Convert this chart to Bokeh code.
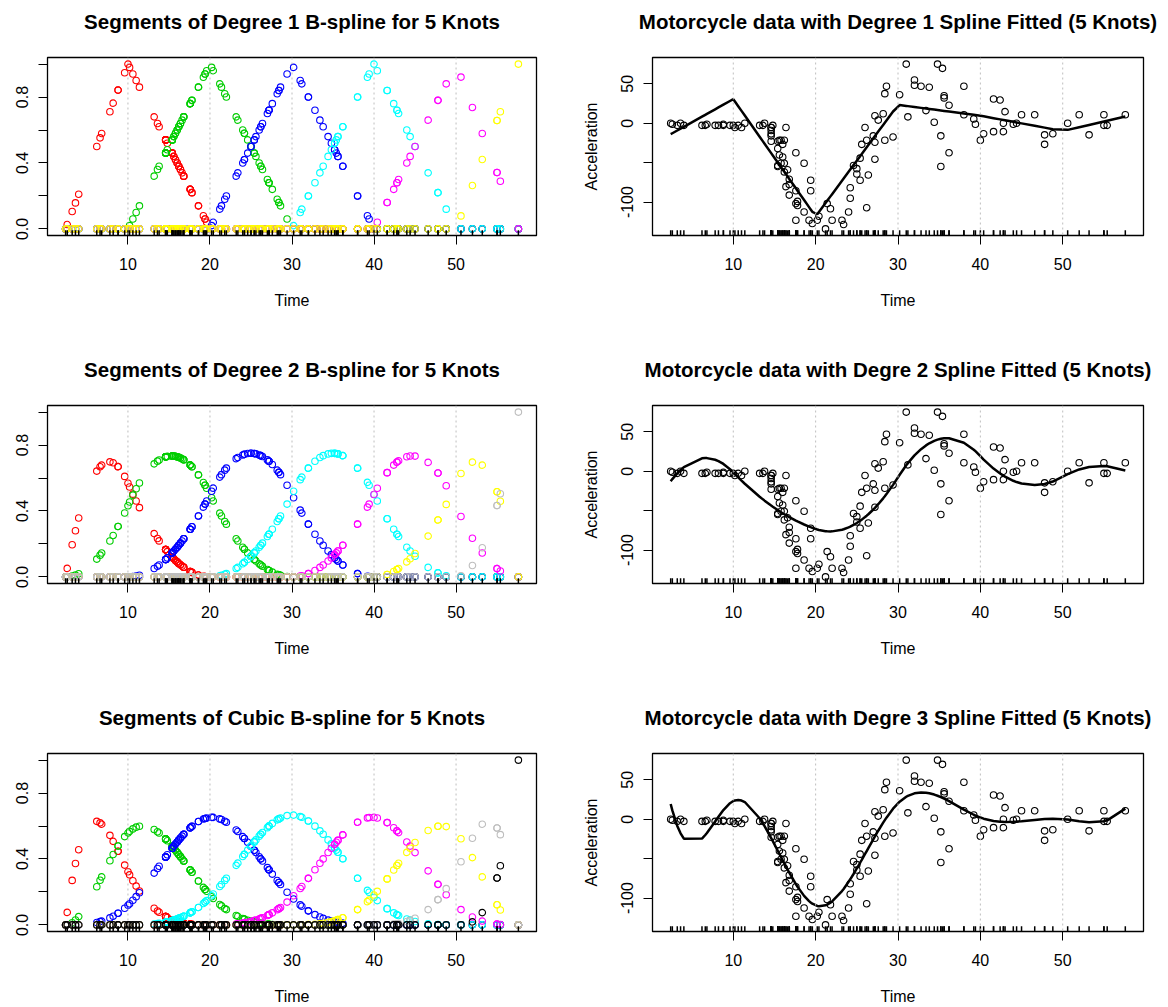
import numpy as np
from bokeh.plotting import figure
from bokeh.layouts import column, row
from bokeh.models import Range1d, FixedTicker, Span, Title
from bokeh.embed import file_html
from bokeh.resources import INLINE

# ---- data (MASS::mcycle) ----
times = [2.4, 2.6, 3.2, 3.6, 4.0, 6.2, 6.6, 6.8, 7.8, 8.2, 8.8, 8.8, 9.6, 10.0, 10.2, 10.6, 11.0, 11.4,
         13.2, 13.6, 13.8, 14.6, 14.6, 14.6, 14.6, 14.6, 14.6, 14.8, 15.4, 15.4, 15.4, 15.4, 15.6, 15.6,
         15.8, 15.8, 16.0, 16.0, 16.2, 16.2, 16.2, 16.4, 16.4, 16.6, 16.8, 16.8, 16.8, 17.6, 17.6, 17.6,
         17.6, 17.8, 17.8, 18.6, 18.6, 19.2, 19.4, 19.4, 19.6, 20.2, 20.4, 21.2, 21.4, 21.8, 22.0, 23.2,
         23.4, 24.0, 24.2, 24.2, 24.6, 25.0, 25.0, 25.4, 25.4, 25.6, 26.0, 26.2, 26.2, 26.4, 27.0, 27.2,
         27.2, 27.2, 27.6, 28.2, 28.4, 28.4, 28.6, 29.4, 30.2, 31.0, 31.2, 32.0, 32.0, 32.8, 33.4, 33.8,
         34.4, 34.8, 35.2, 35.2, 35.4, 35.6, 35.6, 36.2, 36.2, 38.0, 38.0, 39.2, 39.4, 40.0, 40.4, 41.6,
         41.6, 42.4, 42.8, 42.8, 43.0, 44.0, 44.4, 45.0, 46.6, 47.8, 47.8, 48.8, 50.6, 52.0, 53.2, 55.0,
         55.0, 55.4, 57.6]
accel = [0.0, -1.3, -2.7, 0.0, -2.7, -2.7, -2.7, -1.3, -2.7, -2.7, -1.3, -2.7, -2.7, -2.7, -5.4, -2.7,
         -5.4, 0.0, -2.7, -2.7, 0.0, -13.3, -5.4, -5.4, -9.3, -16.0, -22.8, -2.7, -22.8, -32.1, -53.5,
         -54.9, -40.2, -21.5, -21.5, -50.8, -42.9, -26.8, -21.5, -50.8, -61.7, -5.4, -80.4, -59.0, -71.0,
         -91.1, -77.7, -37.5, -85.6, -123.1, -101.9, -99.1, -104.4, -112.5, -50.8, -123.1, -85.6, -72.3,
         -127.2, -123.1, -117.9, -134.0, -101.9, -108.4, -123.1, -123.1, -128.5, -112.5, -95.1, -81.8,
         -53.5, -64.4, -57.6, -72.3, -44.3, -26.8, -5.4, -107.1, -21.5, -65.6, -16.0, -45.6, -24.2, 9.5,
         4.0, 12.0, -21.5, 37.5, 46.9, -17.4, 36.2, 75.0, 8.1, 54.9, 48.2, 46.9, 16.0, 45.6, 1.3, 75.0,
         -16.0, -54.9, 69.6, 34.8, 32.1, -37.5, 22.8, 46.9, 10.7, 5.4, -1.3, -21.5, -13.3, 30.8, -10.7,
         29.4, 0.0, -10.7, 14.7, -1.3, 0.0, 10.7, 10.7, -26.8, -14.7, -13.3, 0.0, 10.7, -14.7, -2.7,
         10.7, -2.7, 10.7]
knots = [10, 20, 30, 40, 50]
degrees = [1, 2, 3]
left_titles = ["Segments of Degree 1 B-spline for 5 Knots",
               "Segments of Degree 2 B-spline for 5 Knots",
               "Segments of Cubic B-spline for 5 Knots"]
right_titles = ["Motorcycle data with Degree 1 Spline Fitted (5 Knots)",
                "Motorcycle data with Degre 2 Spline Fitted (5 Knots)",
                "Motorcycle data with Degre 3 Spline Fitted (5 Knots)"]
colors = ["#FF0000", "#00CD00", "#0000FF", "#00FFFF", "#FF00FF", "#FFFF00", "#BEBEBE", "#000000"]
x_ticks = [10, 20, 30, 40, 50]
basis_y_ticks = [0, 0.2, 0.4, 0.6, 0.8, 1.0]
basis_y_labels = ["0.0", "", "0.4", "", "0.8", ""]
accel_y_ticks = [-100, -50, 0, 50]
accel_y_labels = ["-100", "", "0", "50"]

x = np.array(times, float)
yv = np.array(accel, float)


def bs_basis(xx, interior, degree):
    """B-spline basis as R's splines::bs (no intercept column)."""
    lo, hi = xx.min(), xx.max()
    t = np.r_[[lo] * (degree + 1), interior, [hi] * (degree + 1)].astype(float)
    m = len(t) - 1
    B = np.zeros((len(xx), m))
    for i in range(m):
        if t[i] < t[i + 1]:
            B[:, i] = (xx >= t[i]) & (xx < t[i + 1])
    last = max(i for i in range(m) if t[i] < t[i + 1])
    B[xx == hi, last] = 1.0
    for k in range(1, degree + 1):
        Bn = np.zeros((len(xx), m - k))
        for i in range(m - k):
            d1 = t[i + k] - t[i]
            d2 = t[i + k + 1] - t[i + 1]
            v = np.zeros(len(xx))
            if d1 > 0:
                v += (xx - t[i]) / d1 * B[:, i]
            if d2 > 0:
                v += (t[i + k + 1] - xx) / d2 * B[:, i + 1]
            Bn[:, i] = v
        B = Bn
    return B[:, 1:]


FONT = "Liberation Sans"
TOP = 57
xpad = 0.04 * (x.max() - x.min())
x_lo, x_hi = x.min() - xpad, x.max() + xpad
ypad = 0.04 * (yv.max() - yv.min())
acc_range = (yv.min() - ypad, yv.max() + ypad)
bas_range = (-0.04, 1.04)


def base_fig(title, width, height, left, right, bottom, yrange, yticks, ylabels, ylabel=None):
    p = figure(width=width, height=height, output_backend="svg", toolbar_location=None,
               x_range=Range1d(x_lo, x_hi), y_range=Range1d(*yrange),
               min_border_left=left, min_border_right=right,
               min_border_top=TOP, min_border_bottom=bottom,
               background_fill_color="white", border_fill_color="white")
    # white spacer between frame and title (nearest to the frame), then the title
    p.add_layout(Title(text=".", text_font_size="2px", text_color="white", standoff=22), "above")
    p.add_layout(Title(text=title, align="center", vertical_align="bottom", standoff=0,
                       text_font=FONT, text_font_style="bold", text_font_size="20.5px",
                       text_color="black"), "above")
    p.xgrid.visible = False
    p.ygrid.visible = False
    p.outline_line_color = "black"
    p.outline_line_width = 1.3
    for ax in (p.xaxis[0], p.yaxis[0]):
        ax.major_tick_in = 0
        ax.major_tick_out = 9
        ax.minor_tick_line_color = None
        ax.major_tick_line_color = "black"
        ax.axis_line_color = "black"
        ax.major_label_text_font = FONT
        ax.major_label_text_font_size = "16px"
        ax.major_label_text_color = "black"
        ax.axis_label_text_font = FONT
        ax.axis_label_text_font_size = "16px"
        ax.axis_label_text_font_style = "normal"
        ax.axis_label_text_color = "black"
    p.xaxis.ticker = FixedTicker(ticks=x_ticks)
    p.xaxis.major_label_standoff = 13
    p.xaxis.axis_label = "Time"
    p.xaxis.axis_label_standoff = 19
    p.yaxis.ticker = FixedTicker(ticks=yticks)
    p.yaxis.major_label_overrides = {v: s for v, s in zip(yticks, ylabels)}
    p.yaxis.major_label_orientation = "vertical"
    p.yaxis.major_label_standoff = 10
    if ylabel:
        p.yaxis.axis_label = ylabel
        p.yaxis.axis_label_standoff = 19
    for k in knots:
        p.add_layout(Span(location=k, dimension="height", line_color="#BEBEBE",
                          line_dash="2 3", line_width=1))
    return p


def add_rug(p, yrange):
    span = yrange[1] - yrange[0]
    p.segment(x0=x, x1=x, y0=[yrange[0]] * len(x), y1=[yrange[0] + 0.03 * span] * len(x),
              line_color="black", line_width=1.5)


rows = []
heights = [348, 348, 311]
bottoms = [113, 113, 76]
for d, lt, rt, h, b in zip(degrees, left_titles, right_titles, heights, bottoms):
    Bm = bs_basis(x, knots, d)
    pl = base_fig(lt, 548, h, 47, 12, b, bas_range, basis_y_ticks, basis_y_labels)
    for j in range(Bm.shape[1]):
        pl.scatter(x, Bm[:, j], marker="circle", size=6.5, fill_color=None,
                   line_color=colors[j % len(colors)], line_width=1.1)
    add_rug(pl, bas_range)

    X = np.column_stack([np.ones(len(x)), Bm])
    beta = np.linalg.lstsq(X, yv, rcond=None)[0]
    fitted = X @ beta
    pr = base_fig(rt, 620, h, 104, 25, b, acc_range, accel_y_ticks, accel_y_labels,
                  ylabel="Acceleration")
    pr.scatter(x, yv, marker="circle", size=6.5, fill_color=None, line_color="black", line_width=1.1)
    pr.line(x, fitted, line_color="black", line_width=2.5)
    add_rug(pr, acc_range)
    rows.append(row(pl, pr))

layout = column(*rows)
open("out.html", "w").write(file_html(layout, INLINE))
